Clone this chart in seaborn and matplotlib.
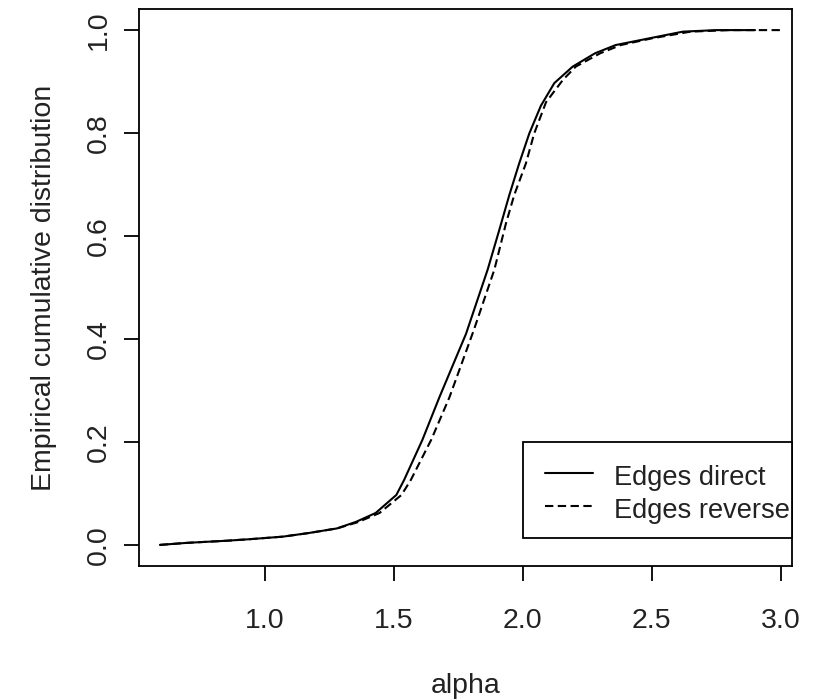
import matplotlib
matplotlib.use("Agg")
import matplotlib.pyplot as plt
import seaborn as sns
import pandas as pd
from matplotlib.lines import Line2D
from matplotlib.patches import Rectangle

# ---- data ----
direct_alpha = [0.594, 0.70, 0.85, 0.94, 1.07, 1.17, 1.28, 1.355, 1.43, 1.51, 1.54,
                1.611, 1.677, 1.78, 1.864, 1.909, 1.948, 1.986, 2.025, 2.07, 2.122,
                2.193, 2.28, 2.36, 2.49, 2.62, 2.75, 2.90]
direct_F = [0.000, 0.004, 0.008, 0.011, 0.016, 0.023, 0.032, 0.045, 0.062, 0.097, 0.126,
            0.204, 0.287, 0.410, 0.535, 0.612, 0.680, 0.741, 0.799, 0.853, 0.897,
            0.929, 0.955, 0.971, 0.984, 0.997, 1.000, 1.000]
reverse_alpha = [0.594, 0.70, 0.85, 0.94, 1.07, 1.17, 1.28, 1.36, 1.445, 1.53, 1.566,
                 1.645, 1.716, 1.81, 1.890, 1.935, 1.967, 2.012, 2.044, 2.09, 2.155,
                 2.205, 2.30, 2.38, 2.50, 2.65, 2.80, 3.01]
reverse_F = [0.000, 0.004, 0.008, 0.011, 0.016, 0.023, 0.032, 0.044, 0.062, 0.097, 0.126,
             0.204, 0.287, 0.417, 0.535, 0.625, 0.680, 0.741, 0.799, 0.860, 0.903,
             0.929, 0.955, 0.971, 0.984, 0.997, 1.000, 1.000]
series_names = ["Edges direct", "Edges reverse"]
x_ticks = [1.0, 1.5, 2.0, 2.5, 3.0]
y_ticks = [0.0, 0.2, 0.4, 0.6, 0.8, 1.0]

df = pd.concat([
    pd.DataFrame({"alpha": direct_alpha, "F": direct_F, "series": series_names[0]}),
    pd.DataFrame({"alpha": reverse_alpha, "F": reverse_F, "series": series_names[1]}),
], ignore_index=True)

sns.set_theme(style="white")
plt.rcParams["font.family"] = ["Liberation Sans", "DejaVu Sans"]
plt.rcParams["lines.scale_dashes"] = False

FS = 20.5
FS_LEG = 19.6
TXT = "#222222"
DASH = (0, (6, 3.2))
fig = plt.figure(figsize=(8.13, 6.99), dpi=100)
ax = fig.add_axes([139 / 813, 1 - 566 / 699, (792 - 139) / 813, (566 - 9) / 699])

dash_map = {series_names[0]: "", series_names[1]: (6, 3.2)}
sns.lineplot(data=df, x="alpha", y="F", hue="series", style="series",
             palette={series_names[0]: "black", series_names[1]: "black"},
             dashes=dash_map, estimator=None, sort=False, linewidth=1.5,
             legend=False, ax=ax)

ax.set_xlim(0.513, 3.043)
ax.set_ylim(-0.041, 1.041)
ax.set_xticks(x_ticks)
ax.set_xticklabels([f"{v:.1f}" for v in x_ticks])
ax.set_yticks(y_ticks)
ax.set_yticklabels([f"{v:.1f}" for v in y_ticks])
ax.tick_params(axis="both", which="major", direction="out", length=11, width=1.3,
               color="black", labelsize=FS, labelcolor=TXT, bottom=True, left=True)
ax.tick_params(axis="x", pad=19)
ax.tick_params(axis="y", pad=8.5, labelrotation=90)
for lab in ax.get_yticklabels():
    lab.set_va("center")
for sp in ax.spines.values():
    sp.set_visible(True)
    sp.set_color("black")
    sp.set_linewidth(1.3)

ax.set_xlabel("alpha", fontsize=FS, color=TXT, labelpad=28)
ax.set_ylabel("Empirical cumulative distribution", fontsize=FS, color=TXT, labelpad=21)

# ---- legend box (R style: text nearly touching the right border) ----
def axx(px):
    return (px - 139) / 653.0

def axy(py):
    return (566 - py) / 557.0

box = Rectangle((axx(523), axy(538)), 1.0 - axx(523), axy(442) - axy(538),
                transform=ax.transAxes, facecolor="white", edgecolor="black",
                linewidth=1.3, zorder=5, clip_on=False)
ax.add_patch(box)
styles = ["-", DASH]
line_rows = [473, 506]
text_rows = [485, 518]
for name, ls, ly, ty in zip(series_names, styles, line_rows, text_rows):
    ax.add_line(Line2D([axx(545), axx(593)], [axy(ly), axy(ly)], transform=ax.transAxes,
                       color="black", lw=1.5, linestyle=ls, zorder=6))
    ax.text(axx(614), axy(ty), name, transform=ax.transAxes, fontsize=FS_LEG, color=TXT,
            ha="left", va="baseline", zorder=6)

fig.savefig("out.png", dpi=100)
